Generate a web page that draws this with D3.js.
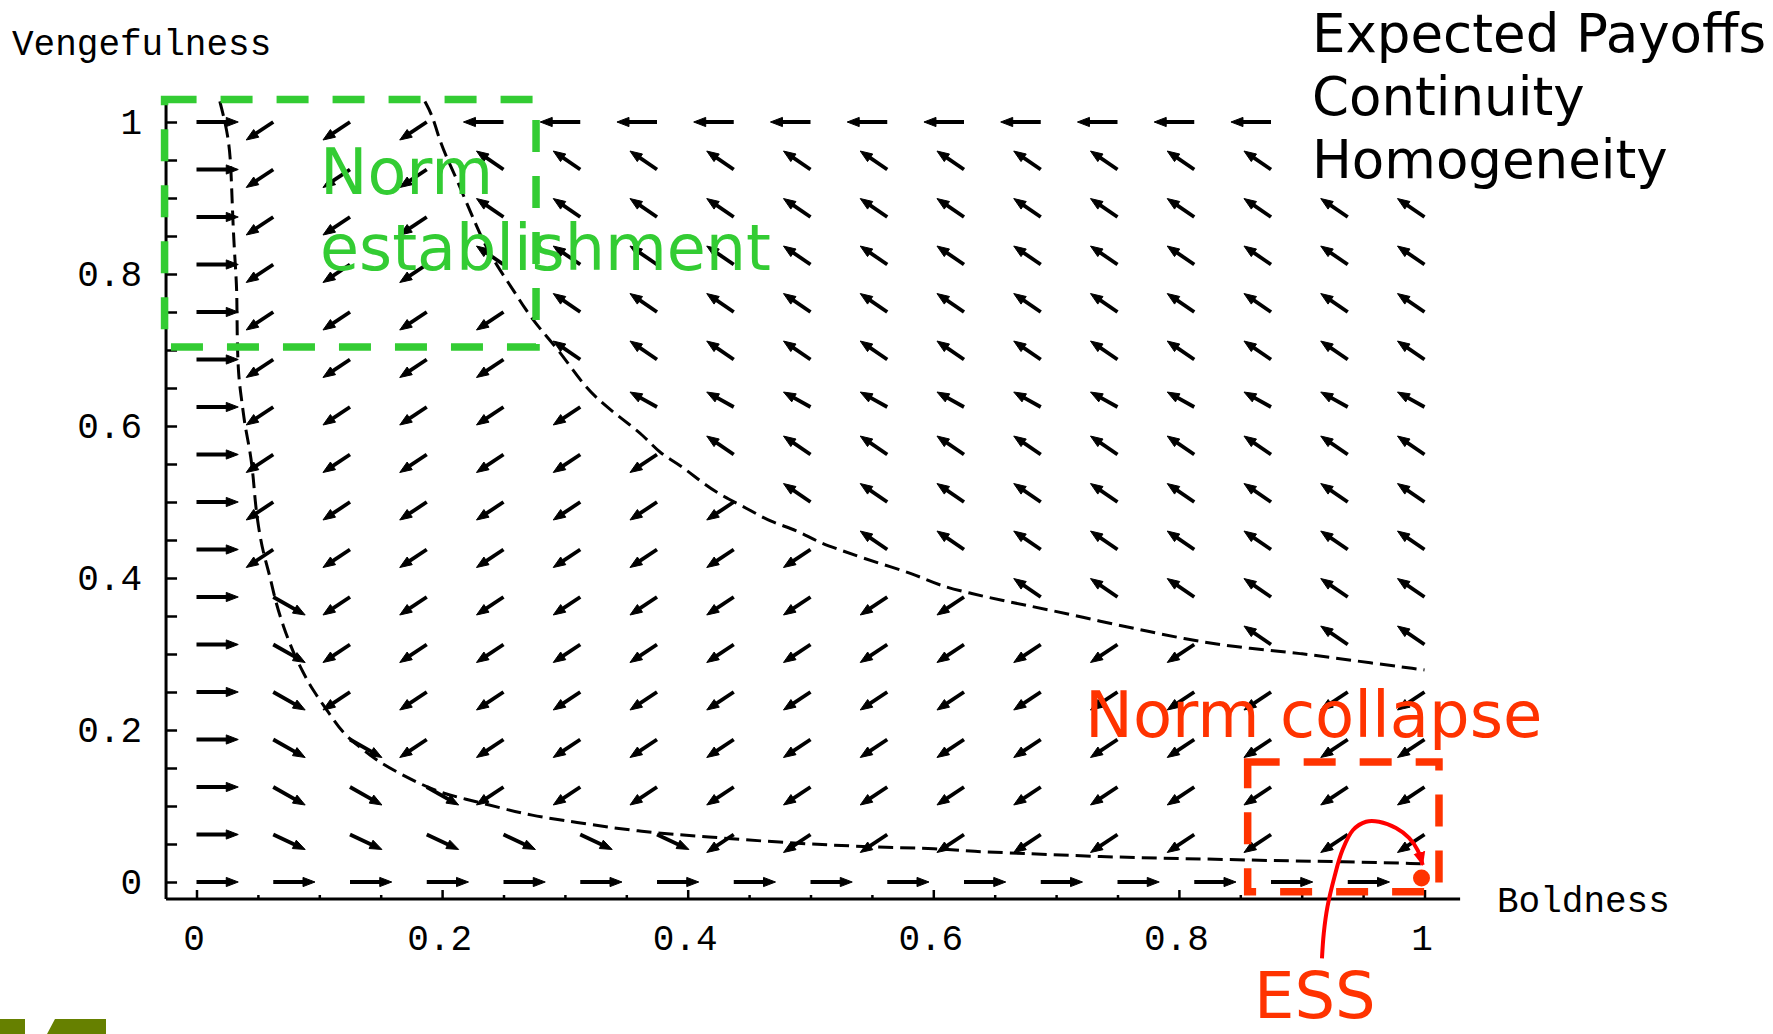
<!DOCTYPE html>
<html>
<head>
<meta charset="utf-8">
<script src="https://cdn.jsdelivr.net/npm/d3@7"></script>
<style>
  html, body { margin: 0; padding: 0; background: #fff; }
  svg { display: block; }
</style>
</head>
<body>
<div id="chart"></div>
<script>
// 17 x 17 grid of the vector field (x = boldness, y = vengefulness)
const gridSteps = d3.range(17).map(i => i / 16);

// direction code of every arrow, top row (vengefulness 1) first, boldness 0 -> 1
// R right, L left, a down-left, b up-left, e up-left (flatter), c down-right, d down-right (flatter), . none
const fieldRows = [
  "RaaaLLLLLLLLLLLLL",
  "Raaabbbbbbbbbbbbb",
  "Raaabbbbbbbbbbbbb",
  "Raaabbbbbbbbbbbbb",
  "Raaaabbbbbbbbbbbb",
  "Raaaabbbbbbbbbbbb",
  "Raaaaaeeeeeeeeeee",
  "Raaaaaabbbbbbbbbb",
  "Raaaaaaabbbbbbbbb",
  "Raaaaaaaabbbbbbbb",
  "Rcaaaaaaaaabbbbbb",
  "Rcaaaaaaaaaaaabbb",
  "Rcaaaaaaaaaaaaaaa",
  "Rccaaaaaaaaaaaaaa",
  "Rcccaaaaaaaaaaaaa",
  "Rddddddaaaaaaaaaa",
  "RRRRRRRRRRRRRRRR."
];

// arrow components per code, in data units
const arrowCodes = ["R", "L", "a", "b", "e", "c", "d"];
const arrowU = [0.034, -0.0326, -0.022, -0.022, -0.022, 0.026, 0.026];
const arrowV = [0, 0, -0.0237, 0.0243, 0.0197, -0.0237, -0.0197];

// dashed zero-growth curves [boldness, vengefulness]
const upperCurve = [
  [0.186, 1.027], [0.192, 1.009], [0.198, 0.976], [0.203, 0.956], [0.211, 0.928],
  [0.219, 0.897], [0.226, 0.871], [0.234, 0.841], [0.245, 0.81], [0.258, 0.779],
  [0.268, 0.753], [0.279, 0.729], [0.295, 0.70], [0.315, 0.654], [0.329, 0.632],
  [0.345, 0.611], [0.364, 0.588], [0.377, 0.564], [0.394, 0.549], [0.412, 0.525],
  [0.429, 0.507], [0.448, 0.492], [0.467, 0.474], [0.489, 0.463], [0.505, 0.448],
  [0.524, 0.437], [0.543, 0.426], [0.565, 0.415], [0.586, 0.404], [0.605, 0.39],
  [0.63, 0.38], [0.654, 0.371], [0.695, 0.358], [0.736, 0.343], [0.777, 0.329],
  [0.817, 0.316], [0.858, 0.307], [0.899, 0.301], [0.939, 0.292], [1.0, 0.279]
];
const lowerCurve = [
  [0.019, 1.027], [0.027, 0.976], [0.0285, 0.92], [0.030, 0.854], [0.0317, 0.81],
  [0.033, 0.775], [0.033, 0.722], [0.034, 0.667], [0.0368, 0.634], [0.0395, 0.599],
  [0.0436, 0.568], [0.0463, 0.533], [0.0476, 0.503], [0.0503, 0.4675], [0.0544, 0.4325],
  [0.06, 0.4017], [0.064, 0.371], [0.0707, 0.336], [0.079, 0.301], [0.087, 0.275],
  [0.0946, 0.2526], [0.108, 0.222], [0.119, 0.196], [0.1326, 0.178], [0.146, 0.1605],
  [0.165, 0.143], [0.181, 0.13], [0.2, 0.1167], [0.217, 0.11], [0.249, 0.097],
  [0.271, 0.088], [0.307, 0.079], [0.361, 0.066], [0.415, 0.0596], [0.483, 0.051],
  [0.551, 0.046], [0.605, 0.044], [0.632, 0.04], [0.67, 0.038], [0.737, 0.033],
  [0.80, 0.031], [0.88, 0.028], [0.93, 0.027], [1.0, 0.024]
];

// annotations, data units
const greenBox = [-0.026, 0.704, 0.2765, 1.0296];
const redBox = [0.856, -0.0128, 1.0118, 0.158];
const essPoint = [1, 0];
const essArc = [
  [0.9165, -0.1004], [0.918, -0.067], [0.921, -0.0325], [0.9267, 0.007], [0.9332, 0.042],
  [0.9418, 0.0684], [0.9524, 0.0793], [0.963, 0.0793], [0.9768, 0.071], [0.9874, 0.058],
  [0.9944, 0.042], [0.9985, 0.0224]
];

const tickValues = d3.range(21).map(k => k / 20);
const tickLabels = ["0", "0.2", "0.4", "0.6", "0.8", "1"];

const width = 1773, height = 1034;
const axisMinX = -0.0248, axisMinY = -0.0224, axisMax = 1.029;
const monoFont = "'Courier New', 'Liberation Mono', monospace";
const sansFont = "'DejaVu Sans', Verdana, sans-serif";

const x = d3.scaleLinear().domain([0, 1]).range([196.5, 1424.5]);
const y = d3.scaleLinear().domain([0, 1]).range([882, 122]);

const svg = d3.select("#chart").append("svg")
    .attr("width", width)
    .attr("height", height);

// axes
const xAxis = d3.axisBottom(x)
    .tickValues(tickValues)
    .tickSizeInner(0)
    .tickSizeOuter(0)
    .tickFormat((d, i) => i % 4 === 0 ? tickLabels[i / 4] : "");
const gx = svg.append("g")
    .attr("transform", `translate(0,${y(axisMinY)})`)
    .call(xAxis);
gx.select(".domain").remove();
gx.selectAll(".tick line")
    .attr("y2", (d, i) => i % 4 === 0 ? -9 : -4)
    .attr("stroke", "#000")
    .attr("stroke-width", 2.5);
gx.selectAll(".tick text")
    .attr("y", 25)
    .attr("dx", -3)
    .attr("font-family", monoFont)
    .attr("font-size", 36)
    .attr("fill", "#000");

const yAxis = d3.axisLeft(y)
    .tickValues(tickValues)
    .tickSizeInner(-11)
    .tickSizeOuter(0)
    .tickPadding(24)
    .tickFormat((d, i) => i % 4 === 0 ? tickLabels[i / 4] : "");
const gy = svg.append("g")
    .attr("transform", `translate(${x(axisMinX)},0)`)
    .call(yAxis);
gy.select(".domain").remove();
gy.selectAll(".tick line")
    .attr("stroke", "#000")
    .attr("stroke-width", 2.5);
gy.selectAll(".tick text")
    .attr("font-family", monoFont)
    .attr("font-size", 36)
    .attr("fill", "#000");

svg.append("line")
    .attr("x1", x(axisMinX)).attr("x2", x(axisMax))
    .attr("y1", y(axisMinY)).attr("y2", y(axisMinY))
    .attr("stroke", "#000").attr("stroke-width", 3);
svg.append("line")
    .attr("x1", x(axisMinX)).attr("x2", x(axisMinX))
    .attr("y1", y(axisMinY)).attr("y2", y(axisMax))
    .attr("stroke", "#000").attr("stroke-width", 3);

svg.append("text")
    .attr("x", 12).attr("y", 55)
    .attr("font-family", monoFont).attr("font-size", 36)
    .text("Vengefulness");
svg.append("text")
    .attr("x", 1497).attr("y", 912)
    .attr("font-family", monoFont).attr("font-size", 36)
    .text("Boldness");

// vector field
const arrows = [];
fieldRows.forEach((row, r) => {
    row.split("").forEach((code, c) => {
        const k = arrowCodes.indexOf(code);
        if (k < 0) return;
        arrows.push({ b: gridSteps[c], v: gridSteps[16 - r], u: arrowU[k], w: arrowV[k] });
    });
});

const headLen = 12, headHalf = 4.6;
function arrowGeom(d) {
    const x1 = x(d.b), y1 = y(d.v), x2 = x(d.b + d.u), y2 = y(d.v + d.w);
    const len = Math.hypot(x2 - x1, y2 - y1);
    const ux = (x2 - x1) / len, uy = (y2 - y1) / len;
    const bx = x2 - ux * headLen, by = y2 - uy * headLen;
    return { x1, y1, x2, y2, ux, uy, bx, by };
}

const field = svg.append("g").attr("class", "field");
field.selectAll("line")
    .data(arrows)
    .join("line")
    .attr("x1", d => arrowGeom(d).x1)
    .attr("y1", d => arrowGeom(d).y1)
    .attr("x2", d => { const g = arrowGeom(d); return g.x2 - g.ux * headLen * 0.5; })
    .attr("y2", d => { const g = arrowGeom(d); return g.y2 - g.uy * headLen * 0.5; })
    .attr("stroke", "#000")
    .attr("stroke-width", 3.8);
field.selectAll("polygon")
    .data(arrows)
    .join("polygon")
    .attr("points", d => {
        const g = arrowGeom(d);
        return [[g.x2, g.y2],
                [g.bx - g.uy * headHalf, g.by + g.ux * headHalf],
                [g.bx + g.uy * headHalf, g.by - g.ux * headHalf]].join(" ");
    })
    .attr("fill", "#000")
    .attr("stroke", "#000")
    .attr("stroke-width", 1);

// dashed curves
const curveLine = d3.line()
    .x(d => x(d[0]))
    .y(d => y(d[1]))
    .curve(d3.curveBasis);
svg.selectAll("path.curve")
    .data([upperCurve, lowerCurve])
    .join("path")
    .attr("class", "curve")
    .attr("d", curveLine)
    .attr("fill", "none")
    .attr("stroke", "#000")
    .attr("stroke-width", 3)
    .attr("stroke-dasharray", "15,7");

// white box behind the top-right caption
svg.append("rect")
    .attr("x", 1296).attr("y", 0)
    .attr("width", width - 1296).attr("height", 194)
    .attr("fill", "#fff");
svg.append("text")
    .attr("font-family", sansFont).attr("font-size", 53)
    .selectAll("tspan")
    .data(["Expected Payoffs", "Continuity", "Homogeneity"])
    .join("tspan")
    .attr("x", 1312)
    .attr("y", (d, i) => 52 + i * 63)
    .text(d => d);

// annotation boxes
function boxRect(b) {
    return { x: x(b[0]), y: y(b[3]), w: x(b[2]) - x(b[0]), h: y(b[1]) - y(b[3]) };
}
const gb = boxRect(greenBox);
svg.append("rect")
    .attr("x", gb.x).attr("y", gb.y).attr("width", gb.w).attr("height", gb.h)
    .attr("fill", "none")
    .attr("stroke", "#33cc33")
    .attr("stroke-width", 7.5)
    .attr("stroke-dasharray", "32,24");
const rb = boxRect(redBox);
svg.append("rect")
    .attr("x", rb.x).attr("y", rb.y).attr("width", rb.w).attr("height", rb.h)
    .attr("fill", "none")
    .attr("stroke", "#ff3300")
    .attr("stroke-width", 7.5)
    .attr("stroke-dasharray", "32,24");

svg.append("text")
    .attr("font-family", sansFont).attr("font-size", 63.5)
    .attr("fill", "#33cc33")
    .selectAll("tspan")
    .data(["Norm", "establishment"])
    .join("tspan")
    .attr("x", 320)
    .attr("y", (d, i) => 193.5 + i * 76.5)
    .text(d => d);

svg.append("text")
    .attr("x", 1085).attr("y", 737)
    .attr("font-family", sansFont).attr("font-size", 64)
    .attr("fill", "#ff3300")
    .text("Norm collapse");
svg.append("text")
    .attr("x", 1254).attr("y", 1018)
    .attr("font-family", sansFont).attr("font-size", 64)
    .attr("fill", "#ff3300")
    .text("ESS");

// ESS point and arrow
svg.append("defs").append("marker")
    .attr("id", "redhead")
    .attr("markerUnits", "userSpaceOnUse")
    .attr("markerWidth", 16).attr("markerHeight", 16)
    .attr("viewBox", "0 0 16 16")
    .attr("refX", 13).attr("refY", 8)
    .attr("orient", "auto")
    .append("path")
    .attr("d", "M0,2 L14,8 L0,14 Z")
    .attr("fill", "#ff0000");
svg.append("path")
    .attr("d", d3.line().x(d => x(d[0])).y(d => y(d[1])).curve(d3.curveCatmullRom)(essArc))
    .attr("fill", "none")
    .attr("stroke", "#ff0000")
    .attr("stroke-width", 4)
    .attr("marker-end", "url(#redhead)");
svg.append("circle")
    .attr("cx", x(essPoint[0]) - 3).attr("cy", y(essPoint[1]) - 4)
    .attr("r", 8.5)
    .attr("fill", "#ff3300");

// corner of the slide logo
svg.append("rect")
    .attr("x", 0).attr("y", 1019).attr("width", 25).attr("height", 15)
    .attr("fill", "#668000");
svg.append("polygon")
    .attr("points", "47,1034 55,1019 106,1019 106,1034")
    .attr("fill", "#668000");
</script>
</body>
</html>
